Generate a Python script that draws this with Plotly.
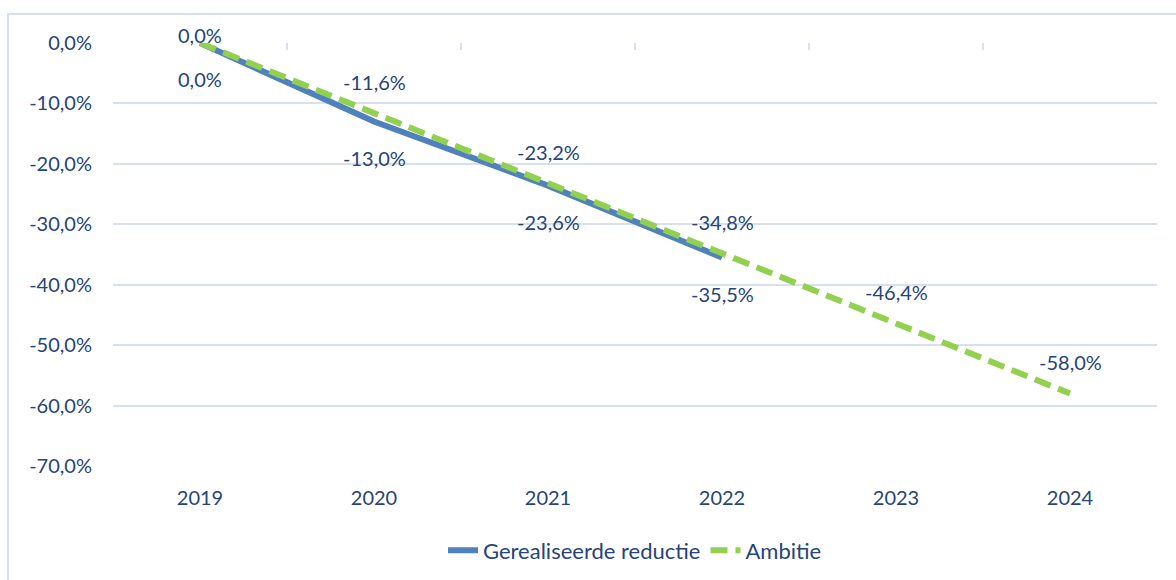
import plotly.graph_objects as go

years = ["2019", "2020", "2021", "2022", "2023", "2024"]
realised = [0.0, -13.0, -23.6, -35.5]
ambition = [0.0, -11.6, -23.2, -34.8, -46.4, -58.0]
y_ticks = [0, -10, -20, -30, -40, -50, -60, -70]
y_tick_labels = ["0,0%", "-10,0%", "-20,0%", "-30,0%", "-40,0%", "-50,0%", "-60,0%", "-70,0%"]

TXT = "#264478"
GRID = "#D6E0F0"
BLUE = "#4F81BD"
GREEN = "#92D050"
FONT = "Lato"
FS = 20

def fmt(v):
    return f"{v:.1f}".replace(".", ",") + "%"

fig = go.Figure()
fig.add_trace(go.Scatter(x=years[:len(realised)], y=realised, mode="lines",
                         name="Gerealiseerde reductie",
                         line=dict(color=BLUE, width=6)))
fig.add_trace(go.Scatter(x=years, y=ambition, mode="lines", name="Ambitie",
                         line=dict(color=GREEN, width=6, dash="17px,8px")))

for i, v in enumerate(realised):
    fig.add_annotation(x=i, y=v, xref="x", yref="y", text=fmt(v), showarrow=False,
                       yshift=-36, font=dict(family=FONT, size=FS, color=TXT))
for i, v in enumerate(ambition):
    fig.add_annotation(x=i, y=v, xref="x", yref="y", text=fmt(v), showarrow=False,
                       yshift=8 if i == 0 else 31,
                       font=dict(family=FONT, size=FS, color=TXT))

fig.update_layout(
    width=1176, height=580,
    margin=dict(l=113, r=19, t=43, b=114, autoexpand=False),
    paper_bgcolor="white", plot_bgcolor="white",
    font=dict(family=FONT, size=FS, color=TXT),
    showlegend=True,
    legend=dict(orientation="h", x=0.5, xanchor="center", y=-0.15, yanchor="top",
                bgcolor="rgba(0,0,0,0)",
                font=dict(family=FONT, size=22, color=TXT)),
    xaxis=dict(type="category", categoryarray=years, range=[-0.5, 5.5],
               showgrid=False, zeroline=False, showline=False, ticks="",
               tickfont=dict(family=FONT, size=FS, color=TXT), ticklabelstandoff=18),
    xaxis2=dict(type="category", categoryarray=years, range=[-0.5, 5.5],
                overlaying="x", side="top", showticklabels=False, showgrid=False,
                ticks="inside", tickson="boundaries", ticklen=7, tickcolor=GRID,
                tickwidth=1.5, showline=False, zeroline=False, anchor="y"),
    yaxis=dict(range=[-70, 0], tickvals=y_ticks, ticktext=y_tick_labels,
               showgrid=True, gridcolor=GRID, gridwidth=1.5, zeroline=False,
               showline=False, ticks="", ticklabelstandoff=20,
               tickfont=dict(family=FONT, size=FS, color=TXT)),
    shapes=[dict(type="rect", xref="paper", yref="paper",
                 x0=-0.1006, x1=1.03, y0=-0.3, y1=1.0686,
                 line=dict(color="#D6E0F0", width=2), layer="below")],
)
fig.add_trace(go.Scatter(x=years, y=[None] * len(years), xaxis="x2", showlegend=False,
                         hoverinfo="skip"))

fig.write_html("out.html", config={"displayModeBar": False},
               post_script="document.body.style.margin='0';")
